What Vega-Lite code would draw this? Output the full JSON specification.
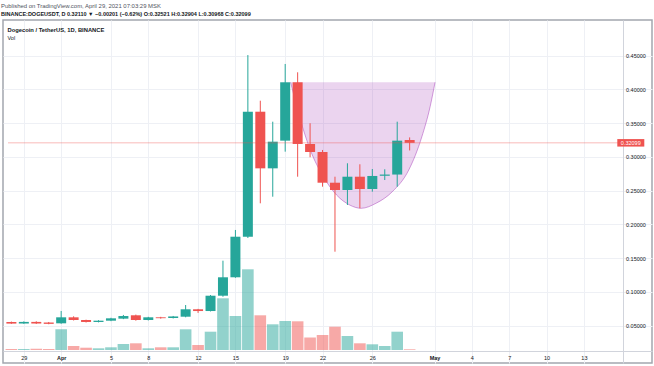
{
  "$schema": "https://vega.github.io/schema/vega-lite/v6.json",
  "width": 649,
  "height": 343,
  "autosize": "none",
  "padding": {"left": 3, "top": 20, "right": 2, "bottom": 3},
  "background": "white",
  "config": {
    "font": "Liberation Sans",
    "view": {"stroke": "#a3a6af", "strokeWidth": 1.5}
  },
  "title": {
    "text": "Published on TradingView.com, April 29, 2021 07:03:29 MSK",
    "subtitle": "BINANCE:DOGEUSDT, D  0.32110 ▼ −0.00201 (−0.62%)  O:0.32521 H:0.32904 L:0.30968 C:0.32099",
    "anchor": "start",
    "frame": "group",
    "orient": "top",
    "dx": -2,
    "offset": 2.5,
    "font": "Liberation Sans",
    "fontSize": 5.95,
    "fontWeight": "normal",
    "color": "#50535e",
    "subtitleFont": "Liberation Sans",
    "subtitleFontSize": 5.5,
    "subtitleFontWeight": 600,
    "subtitleColor": "#131722",
    "subtitlePadding": 3.5
  },
  "datasets": {
    "candles": [
      {"date": "2021-03-28", "open": 0.0556, "high": 0.0562, "low": 0.0528, "close": 0.0532, "volume": 10},
      {"date": "2021-03-29", "open": 0.0533, "high": 0.0565, "low": 0.0528, "close": 0.0557, "volume": 10},
      {"date": "2021-03-30", "open": 0.0557, "high": 0.0566, "low": 0.0527, "close": 0.0533, "volume": 13},
      {"date": "2021-03-31", "open": 0.0548, "high": 0.0556, "low": 0.0522, "close": 0.0528, "volume": 10},
      {"date": "2021-04-01", "open": 0.0536, "high": 0.0719, "low": 0.0530, "close": 0.0625, "volume": 207},
      {"date": "2021-04-02", "open": 0.0625, "high": 0.0640, "low": 0.0578, "close": 0.0585, "volume": 40},
      {"date": "2021-04-03", "open": 0.0585, "high": 0.0590, "low": 0.0548, "close": 0.0556, "volume": 23},
      {"date": "2021-04-04", "open": 0.0556, "high": 0.0582, "low": 0.0550, "close": 0.0575, "volume": 17},
      {"date": "2021-04-05", "open": 0.0575, "high": 0.0618, "low": 0.0568, "close": 0.0610, "volume": 27},
      {"date": "2021-04-06", "open": 0.0605, "high": 0.0660, "low": 0.0598, "close": 0.0644, "volume": 60},
      {"date": "2021-04-07", "open": 0.0655, "high": 0.0665, "low": 0.0575, "close": 0.0585, "volume": 67},
      {"date": "2021-04-08", "open": 0.0585, "high": 0.0632, "low": 0.0578, "close": 0.0625, "volume": 17},
      {"date": "2021-04-09", "open": 0.0625, "high": 0.0632, "low": 0.0605, "close": 0.0612, "volume": 27},
      {"date": "2021-04-10", "open": 0.0615, "high": 0.0645, "low": 0.0608, "close": 0.0638, "volume": 27},
      {"date": "2021-04-11", "open": 0.0634, "high": 0.0807, "low": 0.0625, "close": 0.0744, "volume": 207},
      {"date": "2021-04-12", "open": 0.0744, "high": 0.0750, "low": 0.0690, "close": 0.0718, "volume": 50},
      {"date": "2021-04-13", "open": 0.0718, "high": 0.0955, "low": 0.0712, "close": 0.0945, "volume": 183},
      {"date": "2021-04-14", "open": 0.0945, "high": 0.1464, "low": 0.0930, "close": 0.1218, "volume": 517},
      {"date": "2021-04-15", "open": 0.1218, "high": 0.1919, "low": 0.1210, "close": 0.1819, "volume": 340},
      {"date": "2021-04-16", "open": 0.1819, "high": 0.4510, "low": 0.1800, "close": 0.3671, "volume": 807},
      {"date": "2021-04-17", "open": 0.3671, "high": 0.3834, "low": 0.2314, "close": 0.2832, "volume": 347},
      {"date": "2021-04-18", "open": 0.2832, "high": 0.3523, "low": 0.2412, "close": 0.3227, "volume": 257},
      {"date": "2021-04-19", "open": 0.3242, "high": 0.4378, "low": 0.3079, "close": 0.4107, "volume": 290},
      {"date": "2021-04-20", "open": 0.4107, "high": 0.4255, "low": 0.2708, "close": 0.3193, "volume": 287},
      {"date": "2021-04-21", "open": 0.3193, "high": 0.3500, "low": 0.2996, "close": 0.3074, "volume": 125},
      {"date": "2021-04-22", "open": 0.3074, "high": 0.3104, "low": 0.2560, "close": 0.2619, "volume": 150},
      {"date": "2021-04-23", "open": 0.2619, "high": 0.2708, "low": 0.1597, "close": 0.2511, "volume": 233},
      {"date": "2021-04-24", "open": 0.2511, "high": 0.2907, "low": 0.2289, "close": 0.2708, "volume": 140},
      {"date": "2021-04-25", "open": 0.2708, "high": 0.2892, "low": 0.2240, "close": 0.2526, "volume": 67},
      {"date": "2021-04-26", "open": 0.2526, "high": 0.2822, "low": 0.2486, "close": 0.2719, "volume": 57},
      {"date": "2021-04-27", "open": 0.2722, "high": 0.2818, "low": 0.2659, "close": 0.2740, "volume": 40},
      {"date": "2021-04-28", "open": 0.2740, "high": 0.3523, "low": 0.2560, "close": 0.3242, "volume": 183},
      {"date": "2021-04-29", "open": 0.32521, "high": 0.32904, "low": 0.30968, "close": 0.32099, "volume": 7}
    ],
    "arc": [
      {"date": "2021-04-19T10:25:00Z", "price": 0.4107},
      {"date": "2021-04-20T05:24:00Z", "price": 0.3548},
      {"date": "2021-04-21T00:23:00Z", "price": 0.3104},
      {"date": "2021-04-22T01:38:00Z", "price": 0.2708},
      {"date": "2021-04-23T03:04:00Z", "price": 0.2437},
      {"date": "2021-04-24T04:19:00Z", "price": 0.2289},
      {"date": "2021-04-25T02:33:00Z", "price": 0.2240},
      {"date": "2021-04-26T07:02:00Z", "price": 0.2314},
      {"date": "2021-04-27T14:33:00Z", "price": 0.2486},
      {"date": "2021-04-28T22:15:00Z", "price": 0.2807},
      {"date": "2021-04-29T23:31:00Z", "price": 0.3300},
      {"date": "2021-04-30T15:27:00Z", "price": 0.3745},
      {"date": "2021-05-01T00:58:00Z", "price": 0.4107}
    ],
    "last": [
      {"price": 0.32099}
    ]
  },
  "layer": [
    {
      "data": {"name": "candles"},
      "mark": {"type": "bar", "width": 11.6, "opacity": 0.5},
      "encoding": {
        "x": {
          "field": "date",
          "type": "temporal",
          "scale": {
            "type": "utc",
            "domain": [
              {"year": 2021, "month": 3, "date": 27, "hours": 17, "minutes": 28, "utc": true},
              {"year": 2021, "month": 5, "date": 18, "hours": 1, "minutes": 41, "utc": true}
            ]
          },
          "axis": {
            "orient": "bottom",
            "offset": -12,
            "values": [
              {"year": 2021, "month": 3, "date": 29, "utc": true},
              {"year": 2021, "month": 4, "date": 1, "utc": true},
              {"year": 2021, "month": 4, "date": 5, "utc": true},
              {"year": 2021, "month": 4, "date": 8, "utc": true},
              {"year": 2021, "month": 4, "date": 12, "utc": true},
              {"year": 2021, "month": 4, "date": 15, "utc": true},
              {"year": 2021, "month": 4, "date": 19, "utc": true},
              {"year": 2021, "month": 4, "date": 22, "utc": true},
              {"year": 2021, "month": 4, "date": 26, "utc": true},
              {"year": 2021, "month": 5, "date": 1, "utc": true},
              {"year": 2021, "month": 5, "date": 4, "utc": true},
              {"year": 2021, "month": 5, "date": 7, "utc": true},
              {"year": 2021, "month": 5, "date": 10, "utc": true},
              {"year": 2021, "month": 5, "date": 13, "utc": true}
            ],
            "labelExpr": "utcdate(datum.value) == 1 ? utcFormat(datum.value, '%b') : '' + utcdate(datum.value)",
            "labelFontWeight": {"condition": {"test": "utcdate(datum.value) == 1", "value": "bold"}, "value": "normal"},
            "labelFontSize": 5.5,
            "labelColor": "#131722",
            "labelBaseline": "middle",
            "labelPadding": 6.5,
            "labelOverlap": false,
            "labelFlush": false,
            "ticks": false,
            "tickSize": 0,
            "domainColor": "#d1d4dc",
            "grid": true,
            "gridColor": "#eef0f5",
            "title": "Dogecoin / TetherUS, 1D, BINANCE",
            "titleX": 4,
            "titleY": -321.5,
            "titleAlign": "left",
            "titleBaseline": "middle",
            "titleFontSize": 5.8,
            "titleFontWeight": "bold",
            "titleColor": "#131722"
          }
        },
        "y": {
          "field": "volume",
          "type": "quantitative",
          "scale": {"domain": [-130, 3300], "zero": false, "nice": false},
          "axis": {
            "orient": "left",
            "offset": 0,
            "domain": false,
            "ticks": false,
            "labels": false,
            "grid": false,
            "title": "Vol",
            "titleAngle": 0,
            "titleX": 4,
            "titleY": 17,
            "titleAlign": "left",
            "titleBaseline": "middle",
            "titleFontSize": 5.5,
            "titleFontWeight": "normal",
            "titleColor": "#131722"
          }
        },
        "y2": {"datum": 0},
        "color": {
          "condition": {"test": "datum.close >= datum.open", "value": "#26a69a"},
          "value": "#ef5350"
        }
      }
    },
    {
      "layer": [
        {
          "data": {"name": "arc"},
          "mark": {
            "type": "area",
            "interpolate": "monotone",
            "color": "#9c27b0",
            "fillOpacity": 0.2,
            "line": {"color": "#9c27b0", "strokeWidth": 0.8, "opacity": 0.55}
          },
          "encoding": {
            "x": {"field": "date", "type": "temporal"},
            "y": {
              "field": "price",
              "type": "quantitative",
              "scale": {"domain": [-0.005185, 0.50296], "zero": false, "nice": false},
              "axis": {
                "orient": "right",
                "offset": -29,
                "values": [0.05, 0.1, 0.15, 0.2, 0.25, 0.3, 0.35, 0.4, 0.45],
                "format": ".5f",
                "labelFontSize": 5.5,
                "labelColor": "#131722",
                "labelAlign": "left",
                "labelBaseline": "middle",
                "labelPadding": 2.5,
                "labelOverlap": false,
                "labelFlush": false,
                "ticks": false,
                "tickSize": 0,
                "domainColor": "#d1d4dc",
                "grid": true,
                "gridColor": "#eef0f5",
                "title": null
              }
            },
            "y2": {"datum": 0.4107}
          }
        },
        {
          "data": {"name": "candles"},
          "mark": {"type": "rule", "strokeWidth": 1},
          "encoding": {
            "x": {"field": "date", "type": "temporal"},
            "y": {"field": "low", "type": "quantitative"},
            "y2": {"field": "high"},
            "color": {
              "condition": {"test": "datum.close >= datum.open", "value": "#26a69a"},
              "value": "#ef5350"
            }
          }
        },
        {
          "data": {"name": "candles"},
          "mark": {"type": "bar", "width": 10},
          "encoding": {
            "x": {"field": "date", "type": "temporal"},
            "y": {"field": "open", "type": "quantitative"},
            "y2": {"field": "close"},
            "color": {
              "condition": {"test": "datum.close >= datum.open", "value": "#26a69a"},
              "value": "#ef5350"
            }
          }
        },
        {
          "data": {"name": "last"},
          "mark": {"type": "rule", "color": "#ef5350", "strokeWidth": 1, "opacity": 0.4},
          "encoding": {
            "x": {"datum": {"year": 2021, "month": 3, "date": 27, "hours": 17, "minutes": 28, "utc": true}, "type": "temporal"},
            "x2": {"datum": {"year": 2021, "month": 5, "date": 15, "hours": 18, "minutes": 40, "utc": true}},
            "y": {"field": "price", "type": "quantitative"}
          }
        },
        {
          "data": {"name": "last"},
          "mark": {"type": "tick", "orient": "horizontal", "color": "#ef5350", "size": 27, "thickness": 7.5, "opacity": 1},
          "encoding": {
            "x": {"datum": {"year": 2021, "month": 5, "date": 16, "hours": 18, "minutes": 26, "utc": true}, "type": "temporal"},
            "y": {"field": "price", "type": "quantitative"}
          }
        },
        {
          "data": {"name": "last"},
          "mark": {"type": "text", "color": "white", "fontSize": 5.5, "align": "center", "baseline": "middle"},
          "encoding": {
            "x": {"datum": {"year": 2021, "month": 5, "date": 16, "hours": 18, "minutes": 26, "utc": true}, "type": "temporal"},
            "y": {"field": "price", "type": "quantitative"},
            "text": {"field": "price", "type": "quantitative", "format": ".5f"}
          }
        }
      ]
    }
  ],
  "resolve": {"scale": {"y": "independent"}}
}
